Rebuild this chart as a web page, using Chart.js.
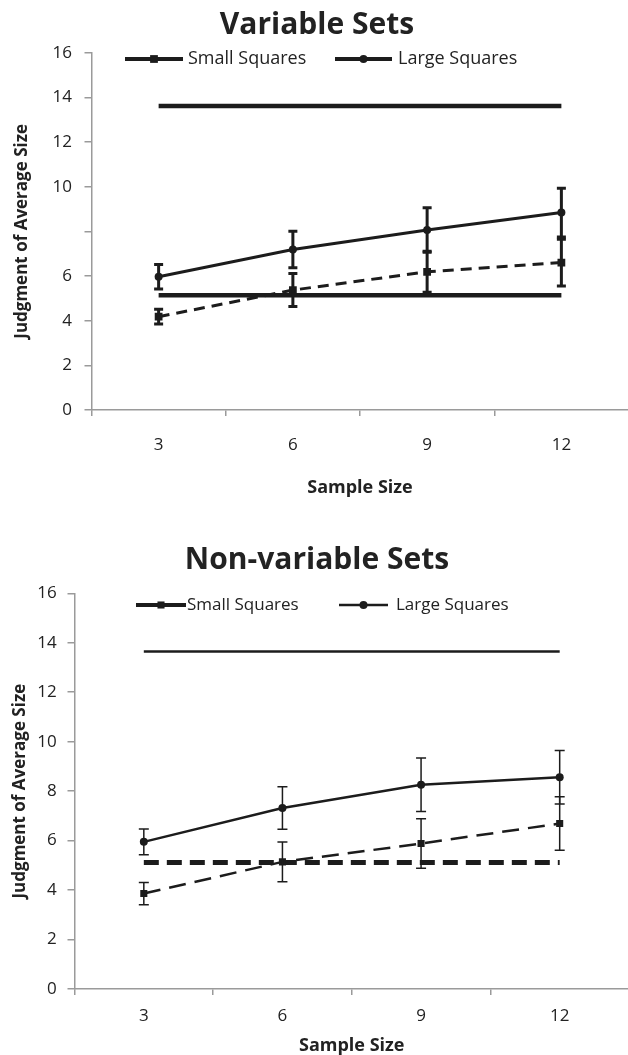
<!DOCTYPE html>
<html lang="en">
<head>
<meta charset="UTF-8">
<title>Judgment of Average Size</title>
<script src="https://cdn.jsdelivr.net/npm/chart.js"></script>
<style>
    html, body {
        margin: 0;
        padding: 0;
        background: #fff;
        overflow: hidden;
    }
    body {
        width: 628px;
        height: 1055px;
        position: relative;
    }
    .painel {
        position: absolute;
        left: 0;
        width: 634px;
    }
    #painelVar { top: 0; height: 500px; }
    #painelNon { top: 530px; height: 525px; }
</style>
</head>
<body>
<div class="painel" id="painelVar"><canvas id="chartVar"></canvas></div>
<div class="painel" id="painelNon"><canvas id="chartNon"></canvas></div>

<script>
// categorias (eixo x)
const sampleSizes = ['3', '6', '9', '12'];

// rótulos do eixo y (o gráfico de cima não mostra o 8)
const varTickLabels = ['0', '2', '4', '6', '', '10', '12', '14', '16'];
const nonTickLabels = ['0', '2', '4', '6', '8', '10', '12', '14', '16'];

// Variable Sets
const varLarge = [5.97, 7.19, 8.06, 8.84];
const varLargeErr = [0.55, 0.82, 1.0, 1.09];
const varSmall = [4.18, 5.37, 6.19, 6.6];
const varSmallErr = [0.33, 0.74, 0.92, 1.05];
const varRefLarge = [13.61, 13.61, 13.61, 13.61];
const varRefSmall = [5.14, 5.14, 5.14, 5.14];

// Non-variable Sets
const nonLarge = [5.95, 7.32, 8.26, 8.56];
const nonLargeErr = [0.52, 0.86, 1.08, 1.08];
const nonSmall = [3.86, 5.14, 5.88, 6.69];
const nonSmallErr = [0.45, 0.8, 1.0, 1.08];
const nonRefLarge = [13.65, 13.65, 13.65, 13.65];
const nonRefSmall = [5.11, 5.11, 5.11, 5.11];

Chart.defaults.font.family = "'Open Sans', sans-serif";
Chart.defaults.color = '#222';

const PRETO = '#1c1c1c';
const CINZA = '#9a9a9a';

// barras de erro desenhadas pela escala y do proprio grafico
const errorBars = {
    id: 'errorBars',
    afterDatasetsDraw(chart, args, opts) {
        const ctx = chart.ctx;
        const y = chart.scales.y;
        chart.data.datasets.forEach((ds, i) => {
            if (!ds.errors) return;
            const meta = chart.getDatasetMeta(i);
            ctx.save();
            ctx.strokeStyle = PRETO;
            ctx.lineWidth = opts.width;
            meta.data.forEach((pt, j) => {
                const topo = y.getPixelForValue(ds.data[j] + ds.errors[j]);
                const base = y.getPixelForValue(ds.data[j] - ds.errors[j]);
                ctx.beginPath();
                ctx.moveTo(pt.x, topo);
                ctx.lineTo(pt.x, base);
                ctx.moveTo(pt.x - opts.cap, topo);
                ctx.lineTo(pt.x + opts.cap, topo);
                ctx.moveTo(pt.x - opts.cap, base);
                ctx.lineTo(pt.x + opts.cap, base);
                ctx.stroke();
            });
            ctx.restore();
        });
    }
};

// legenda no estilo do Excel: linha com marcador no meio
const legendaLinhas = {
    id: 'legendaLinhas',
    afterDraw(chart, args, opts) {
        const ctx = chart.ctx;
        opts.items.forEach(item => {
            const ds = chart.data.datasets[item.dataset];
            ctx.save();
            ctx.strokeStyle = PRETO;
            ctx.fillStyle = PRETO;
            ctx.lineWidth = item.lineWidth;
            ctx.beginPath();
            ctx.moveTo(item.x0, opts.y);
            ctx.lineTo(item.x1, opts.y);
            ctx.stroke();
            Chart.helpers.drawPoint(ctx, {
                pointStyle: ds.pointStyle,
                radius: ds.pointRadius,
                rotation: 0,
                borderWidth: 0
            }, (item.x0 + item.x1) / 2, opts.y);
            ctx.font = opts.fontSize + "px 'Open Sans', sans-serif";
            ctx.textBaseline = 'middle';
            ctx.textAlign = 'left';
            ctx.fillStyle = '#222';
            ctx.fillText(ds.label, item.textX, opts.y);
            ctx.restore();
        });
    }
};

const montarGrafico = (canvasId, cfg) => {
    const datasets = [
        {
            label: 'Small Squares',
            data: cfg.small,
            errors: cfg.smallErr,
            borderColor: PRETO,
            backgroundColor: PRETO,
            borderWidth: cfg.dataWidth,
            borderDash: cfg.smallDash,
            pointStyle: 'rect',
            pointRadius: cfg.rectRadius,
            pointBorderWidth: 0,
            pointBackgroundColor: PRETO
        },
        {
            label: 'Large Squares',
            data: cfg.large,
            errors: cfg.largeErr,
            borderColor: PRETO,
            backgroundColor: PRETO,
            borderWidth: cfg.dataWidth,
            pointStyle: 'circle',
            pointRadius: 4,
            pointBorderWidth: 0,
            pointBackgroundColor: PRETO
        },
        {
            label: 'Large reference',
            data: cfg.refLarge,
            borderColor: PRETO,
            borderWidth: cfg.refLargeWidth,
            pointRadius: 0
        },
        {
            label: 'Small reference',
            data: cfg.refSmall,
            borderColor: PRETO,
            borderWidth: cfg.refSmallWidth,
            borderDash: cfg.refSmallDash,
            pointRadius: 0
        }
    ];

    return new Chart(document.getElementById(canvasId), {
        type: 'line',
        data: { labels: sampleSizes, datasets: datasets },
        options: {
            responsive: true,
            maintainAspectRatio: false,
            animation: false,
            layout: { padding: 0 },
            elements: { line: { tension: 0, fill: false, borderCapStyle: 'butt' } },
            plugins: {
                legend: { display: false },
                tooltip: { enabled: false },
                title: {
                    display: true,
                    text: cfg.title,
                    color: '#222',
                    font: { size: 30, weight: 'bold', lineHeight: 1.2 },
                    padding: cfg.titlePad
                },
                errorBars: { width: cfg.errWidth, cap: cfg.errCap },
                legendaLinhas: { y: cfg.legendY, fontSize: cfg.legendFont, items: cfg.legendItems }
            },
            scales: {
                x: {
                    type: 'category',
                    offset: true,
                    afterFit: (s) => { s.height = cfg.xHeight; },
                    grid: { offset: true, drawOnChartArea: false, tickLength: 6, color: CINZA, lineWidth: 1.5 },
                    border: { color: CINZA, width: 1.5 },
                    ticks: { font: { size: 17 }, color: '#222', padding: cfg.xTickPad, maxRotation: 0, autoSkip: false },
                    title: {
                        display: true,
                        text: 'Sample Size',
                        color: '#222',
                        font: { size: 18, weight: 'bold', lineHeight: 1 },
                        padding: { top: 0, bottom: cfg.xTitlePad }
                    }
                },
                y: {
                    min: 0,
                    max: 16,
                    afterFit: (s) => { s.width = cfg.yWidth; },
                    grid: { drawOnChartArea: false, tickLength: 7, color: CINZA, lineWidth: 1.5 },
                    border: { color: CINZA, width: 1.5 },
                    ticks: {
                        stepSize: 2,
                        padding: cfg.yTickPad,
                        font: { size: 17 },
                        color: '#222',
                        callback: (valor, indice) => cfg.yLabels[indice]
                    },
                    title: {
                        display: true,
                        text: 'Judgment of Average Size',
                        color: '#222',
                        font: { size: 17, weight: 'bold', lineHeight: 1.2 },
                        padding: { top: cfg.yTitlePad, bottom: 0 }
                    }
                }
            }
        },
        plugins: [errorBars, legendaLinhas]
    });
};

montarGrafico('chartVar', {
    title: 'Variable Sets',
    small: varSmall, smallErr: varSmallErr,
    large: varLarge, largeErr: varLargeErr,
    refLarge: varRefLarge, refSmall: varRefSmall,
    yLabels: varTickLabels,
    dataWidth: 3, smallDash: [11, 7], rectRadius: 5.5,
    refLargeWidth: 4.5, refSmallWidth: 4.5, refSmallDash: [],
    errWidth: 3, errCap: 4.5,
    titlePad: { top: 7.8, bottom: 8.9 },
    yWidth: 91.5, yTickPad: 12.5, yTitlePad: 11.8,
    xHeight: 90, xTickPad: 19.4, xTitlePad: 3,
    legendY: 59, legendFont: 18,
    legendItems: [
        { dataset: 0, x0: 125, x1: 183, textX: 188, lineWidth: 4 },
        { dataset: 1, x0: 335, x1: 392, textX: 398, lineWidth: 4 }
    ]
});

montarGrafico('chartNon', {
    title: 'Non-variable Sets',
    small: nonSmall, smallErr: nonSmallErr,
    large: nonLarge, largeErr: nonLargeErr,
    refLarge: nonRefLarge, refSmall: nonRefSmall,
    yLabels: nonTickLabels,
    dataWidth: 2.5, smallDash: [17, 9], rectRadius: 5,
    refLargeWidth: 2.5, refSmallWidth: 5, refSmallDash: [15, 8],
    errWidth: 1.5, errCap: 5,
    titlePad: { top: 12, bottom: 15.3 },
    yWidth: 74.5, yTickPad: 10.8, yTitlePad: 9.8,
    xHeight: 66, xTickPad: 11, xTitlePad: 0,
    legendY: 75, legendFont: 17,
    legendItems: [
        { dataset: 0, x0: 136, x1: 186, textX: 187, lineWidth: 4 },
        { dataset: 1, x0: 339, x1: 388, textX: 396, lineWidth: 2.5 }
    ]
});
</script>
</body>
</html>
